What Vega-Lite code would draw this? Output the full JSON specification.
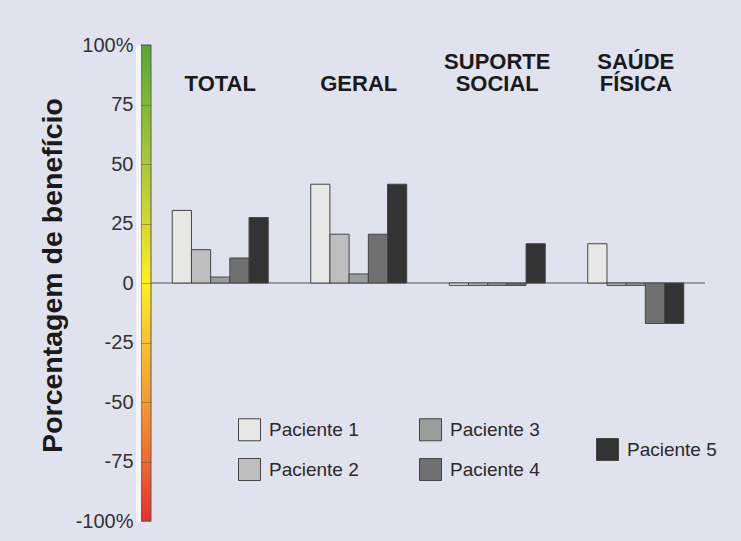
{
  "$schema": "https://vega.github.io/schema/vega-lite/v6.json",
  "background": "#e0e2ee",
  "padding": {"left": 38, "top": 35, "right": 28, "bottom": 11},
  "spacing": 0,
  "bounds": "flush",
  "config": {"view": {"stroke": null}, "font": "Liberation Sans"},
  "hconcat": [
    {
      "width": 10,
      "height": 476,
      "data": {"values": [{"de": -100, "ate": 100}]},
      "mark": {
        "type": "rect",
        "stroke": "#5a5a5a",
        "strokeWidth": 1,
        "fill": {
          "gradient": "linear",
          "x1": 0, "y1": 0, "x2": 0, "y2": 1,
          "stops": [
            {"offset": 0, "color": "#58a535"},
            {"offset": 0.125, "color": "#80b938"},
            {"offset": 0.25, "color": "#a9c73a"},
            {"offset": 0.375, "color": "#d5d830"},
            {"offset": 0.5, "color": "#fff01e"},
            {"offset": 0.625, "color": "#f8c030"},
            {"offset": 0.75, "color": "#f39a34"},
            {"offset": 0.875, "color": "#ee6a30"},
            {"offset": 1, "color": "#e2302a"}
          ]
        }
      },
      "encoding": {
        "y": {
          "field": "ate",
          "type": "quantitative",
          "scale": {"domain": [-100, 100], "nice": false},
          "axis": {
            "title": "Porcentagem de benefício",
            "values": [-100, -75, -50, -25, 0, 25, 50, 75, 100],
            "labelExpr": "datum.value == 100 ? '100%' : datum.value == -100 ? '-100%' : toString(datum.value)",
            "labelFontSize": 20,
            "labelColor": "#333333",
            "labelPadding": 5,
            "ticks": false,
            "domain": true,
            "domainColor": "#f4f4f8",
            "domainWidth": 5,
            "offset": 3,
            "grid": true,
            "gridColor": "#6a4a20",
            "gridOpacity": 0.45,
            "zindex": 1,
            "titleFontSize": 28.5,
            "titleFontWeight": "bold",
            "titleColor": "#1a1a1a",
            "titlePadding": 8,
            "titleY": 230
          }
        },
        "y2": {"field": "de"}
      }
    },
    {
      "width": 554,
      "height": 476,
      "data": {
        "values": [
          {"grupo": "TOTAL", "paciente": "Paciente 1", "valor": 30.5},
          {"grupo": "TOTAL", "paciente": "Paciente 2", "valor": 14},
          {"grupo": "TOTAL", "paciente": "Paciente 3", "valor": 2.5},
          {"grupo": "TOTAL", "paciente": "Paciente 4", "valor": 10.5},
          {"grupo": "TOTAL", "paciente": "Paciente 5", "valor": 27.5},
          {"grupo": "GERAL", "paciente": "Paciente 1", "valor": 41.5},
          {"grupo": "GERAL", "paciente": "Paciente 2", "valor": 20.5},
          {"grupo": "GERAL", "paciente": "Paciente 3", "valor": 3.8},
          {"grupo": "GERAL", "paciente": "Paciente 4", "valor": 20.5},
          {"grupo": "GERAL", "paciente": "Paciente 5", "valor": 41.5},
          {"grupo": "SUPORTE SOCIAL", "paciente": "Paciente 1", "valor": -1},
          {"grupo": "SUPORTE SOCIAL", "paciente": "Paciente 2", "valor": -1},
          {"grupo": "SUPORTE SOCIAL", "paciente": "Paciente 3", "valor": -1},
          {"grupo": "SUPORTE SOCIAL", "paciente": "Paciente 4", "valor": -1},
          {"grupo": "SUPORTE SOCIAL", "paciente": "Paciente 5", "valor": 16.5},
          {"grupo": "SAÚDE FÍSICA", "paciente": "Paciente 1", "valor": 16.5},
          {"grupo": "SAÚDE FÍSICA", "paciente": "Paciente 2", "valor": -1},
          {"grupo": "SAÚDE FÍSICA", "paciente": "Paciente 3", "valor": -1},
          {"grupo": "SAÚDE FÍSICA", "paciente": "Paciente 4", "valor": -17},
          {"grupo": "SAÚDE FÍSICA", "paciente": "Paciente 5", "valor": -17}
        ]
      },
      "layer": [
        {
          "data": {"values": [{"nivel": 0}]},
          "mark": {"type": "rule", "color": "#555555", "strokeWidth": 1},
          "encoding": {
            "y": {"field": "nivel", "type": "quantitative", "scale": {"domain": [-100, 100], "nice": false}, "axis": null}
          }
        },
        {
          "transform": [{"filter": "datum.paciente != 'Paciente 5'"}],
          "mark": {"type": "bar", "stroke": "#454545", "strokeWidth": 1},
          "encoding": {
            "x": {
              "field": "grupo",
              "type": "nominal",
              "scale": {"domain": ["TOTAL", "GERAL", "SUPORTE SOCIAL", "SAÚDE FÍSICA"], "paddingInner": 0.3069, "paddingOuter": 0.1534},
              "axis": {
                "orient": "top",
                "title": null,
                "domain": false,
                "ticks": false,
                "labelAngle": 0,
                "labelFontSize": 22,
                "labelFontWeight": "bold",
                "labelColor": "#1a1a1a",
                "labelExpr": "indexof(datum.label, ' ') >= 0 ? split(datum.label, ' ') : ['', datum.label]",
                "labelLineHeight": 22,
                "labelPadding": -28,
                "labelBaseline": "bottom"
              }
            },
            "xOffset": {
              "field": "paciente",
              "type": "nominal",
              "scale": {"domain": ["Paciente 1", "Paciente 2", "Paciente 3", "Paciente 4", "Paciente 5"], "paddingInner": 0, "paddingOuter": 0}
            },
            "y": {"field": "valor", "type": "quantitative", "scale": {"domain": [-100, 100], "nice": false}, "axis": null},
            "fill": {
              "field": "paciente",
              "type": "nominal",
              "scale": {"domain": ["Paciente 1", "Paciente 2", "Paciente 3", "Paciente 4"], "range": ["#e7e7e5", "#bebebe", "#9c9c9c", "#707070"]},
              "legend": {
                "orient": "none",
                "legendX": 87,
                "legendY": 373,
                "columns": 2,
                "title": null,
                "symbolType": "square",
                "symbolSize": 484,
                "symbolStrokeColor": "#444444",
                "symbolStrokeWidth": 1,
                "symbolOpacity": 1,
                "labelFontSize": 19,
                "labelColor": "#2a2a2a",
                "labelOffset": 8,
                "rowPadding": 13,
                "columnPadding": 58,
                "padding": 0
              }
            }
          }
        },
        {
          "transform": [{"filter": "datum.paciente == 'Paciente 5'"}],
          "mark": {"type": "bar", "stroke": "#454545", "strokeWidth": 1},
          "encoding": {
            "x": {"field": "grupo", "type": "nominal", "scale": {"domain": ["TOTAL", "GERAL", "SUPORTE SOCIAL", "SAÚDE FÍSICA"]}},
            "xOffset": {
              "field": "paciente",
              "type": "nominal",
              "scale": {"domain": ["Paciente 1", "Paciente 2", "Paciente 3", "Paciente 4", "Paciente 5"]}
            },
            "y": {"field": "valor", "type": "quantitative", "scale": {"domain": [-100, 100], "nice": false}, "axis": null},
            "fill": {
              "field": "paciente",
              "type": "nominal",
              "scale": {"domain": ["Paciente 5"], "range": ["#333333"]},
              "legend": {
                "orient": "none",
                "legendX": 445,
                "legendY": 393,
                "title": null,
                "symbolType": "square",
                "symbolSize": 484,
                "symbolStrokeColor": "#444444",
                "symbolStrokeWidth": 1,
                "symbolOpacity": 1,
                "labelFontSize": 19,
                "labelColor": "#2a2a2a",
                "labelOffset": 8,
                "padding": 0
              }
            }
          }
        }
      ],
      "resolve": {"scale": {"fill": "independent"}}
    }
  ]
}
